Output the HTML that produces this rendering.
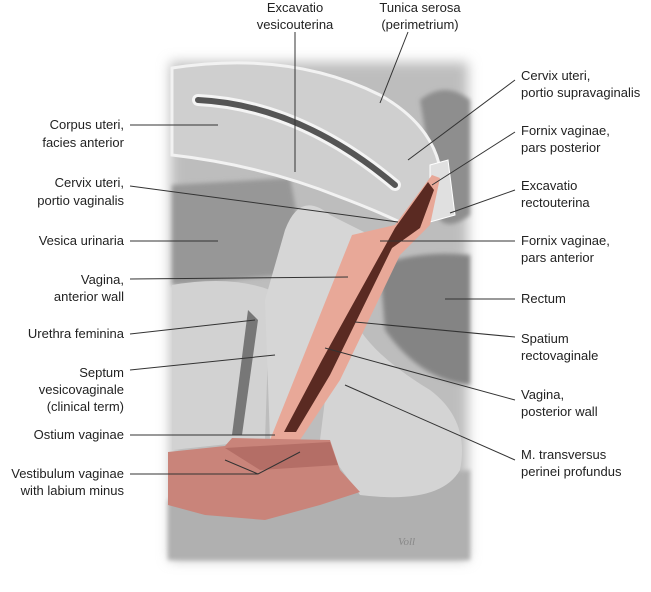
<!DOCTYPE html>
<html><head><meta charset="utf-8"><style>
body{margin:0;background:#fff;}
svg{display:block;}
text{font-family:"Liberation Sans",sans-serif;font-size:13px;fill:#222;}
</style></head><body>
<svg width="651" height="592" viewBox="0 0 651 592">
<defs>
<filter id="b" x="-10%" y="-10%" width="120%" height="120%"><feGaussianBlur stdDeviation="6"/></filter>
<filter id="b2"><feGaussianBlur stdDeviation="2"/></filter>
</defs>
<rect x="170" y="62" width="298" height="498" fill="#bdbdbd" filter="url(#b)"/>
<path d="M168 500 L470 470 L470 560 L168 560Z" fill="#b0b0b0" filter="url(#b2)"/>
<path d="M172 185 L290 178 L300 230 L285 275 L172 285Z" fill="#979797" filter="url(#b2)"/>
<path d="M380 265 Q420 250 470 255 L470 385 Q420 380 385 330 Z" fill="#848484" filter="url(#b2)"/>
<path d="M420 100 Q445 80 470 100 L470 215 Q450 230 440 220 Z" fill="#8e8e8e" filter="url(#b2)"/>
<path d="M172 285 Q230 275 270 290 L265 440 L172 450Z" fill="#d2d2d2"/>
<path d="M285 230 Q300 190 330 215 L370 235 L300 440 L270 440 L265 300Z" fill="#d6d6d6"/>
<path d="M248 310 L258 320 L242 435 L232 435Z" fill="#777"/>
<path d="M360 330 Q380 360 430 390 Q470 420 460 470 Q440 505 360 495 L320 440 L330 360Z" fill="#d4d4d4"/>
<path d="M172 68 Q290 50 380 95 Q442 130 442 188 Q438 218 408 226 Q380 212 340 197 Q260 165 172 155Z" fill="#cfcfcf" stroke="#f2f2f2" stroke-width="3"/>
<path d="M198 100 Q300 105 395 185" stroke="#f4f4f4" stroke-width="12" fill="none" stroke-linecap="round"/>
<path d="M198 100 Q300 105 395 185" stroke="#555" stroke-width="6" fill="none" stroke-linecap="round"/>
<path d="M430 165 L448 160 L455 215 L430 222Z" fill="#e0e0e0" stroke="#fff"/>
<path d="M352 235 L395 225 L432 175 L440 178 L430 225 L400 255 L340 380 L300 440 L270 440 Z" fill="#e8a898"/>
<path d="M395 228 L428 182 L434 190 L420 228 L392 248 L330 375 L296 432 L284 432 L322 360 Z" fill="#5a2a22"/>
<path d="M168 452 L225 446 L232 438 L330 440 L340 470 L360 492 L320 505 L265 520 L205 515 L168 505Z" fill="#c9847a"/>
<path d="M225 448 L330 442 L338 465 L260 470 Z" fill="#b46e66"/>
<text x="398" y="545" style="font-size:11px;fill:#888;font-family:'Liberation Serif',serif;font-style:italic">Voll</text>
<g stroke="#333" stroke-width="1" fill="none">
<path d="M130 125 L218 125"/>
<path d="M130 186 L398 222"/>
<path d="M130 241 L218 241"/>
<path d="M130 279 L348 277"/>
<path d="M130 334 L255 320"/>
<path d="M130 370 L275 355"/>
<path d="M130 435 L275 435"/>
<path d="M130 474 L258 474 L300 452 M258 474 L225 460"/>
<path d="M295 32 L295 172"/>
<path d="M408 32 L380 103"/>
<path d="M515 80 L408 160"/>
<path d="M515 132 L432 185"/>
<path d="M515 190 L450 213"/>
<path d="M515 241 L380 241"/>
<path d="M515 299 L445 299"/>
<path d="M515 337 L355 322"/>
<path d="M515 400 L325 348"/>
<path d="M515 460 L345 385"/>
</g>
<g text-anchor="end">
<text x="124" y="129">Corpus uteri,</text><text x="124" y="147">facies anterior</text>
<text x="124" y="187">Cervix uteri,</text><text x="124" y="205">portio vaginalis</text>
<text x="124" y="245">Vesica urinaria</text>
<text x="124" y="284">Vagina,</text><text x="124" y="301">anterior wall</text>
<text x="124" y="338">Urethra feminina</text>
<text x="124" y="377">Septum</text><text x="124" y="394">vesicovaginale</text><text x="124" y="411">(clinical term)</text>
<text x="124" y="439">Ostium vaginae</text>
<text x="124" y="478">Vestibulum vaginae</text><text x="124" y="495">with labium minus</text>
</g>
<g text-anchor="middle">
<text x="295" y="12">Excavatio</text><text x="295" y="29">vesicouterina</text>
<text x="420" y="12">Tunica serosa</text><text x="420" y="29">(perimetrium)</text>
</g>
<g>
<text x="521" y="80">Cervix uteri,</text><text x="521" y="97">portio supravaginalis</text>
<text x="521" y="135">Fornix vaginae,</text><text x="521" y="152">pars posterior</text>
<text x="521" y="190">Excavatio</text><text x="521" y="207">rectouterina</text>
<text x="521" y="245">Fornix vaginae,</text><text x="521" y="262">pars anterior</text>
<text x="521" y="303">Rectum</text>
<text x="521" y="343">Spatium</text><text x="521" y="360">rectovaginale</text>
<text x="521" y="399">Vagina,</text><text x="521" y="416">posterior wall</text>
<text x="521" y="459">M. transversus</text><text x="521" y="476">perinei profundus</text>
</g>
</svg>
</body></html>
